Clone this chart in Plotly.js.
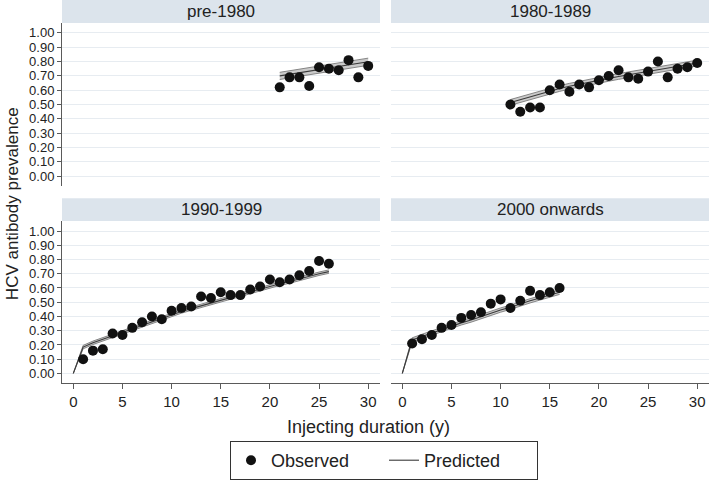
<!DOCTYPE html>
<html>
<head>
<meta charset="utf-8">
<script src="https://cdn.plot.ly/plotly-3.0.1.min.js"></script>
<style>html,body{margin:0;padding:0;background:#fff;}#chart{width:709px;height:480px;}</style>
</head>
<body>
<div id="chart"></div>
<script>
// ---- Data ----
const panelTitles = ["pre-1980", "1980-1989", "1990-1999", "2000 onwards"];

const pre1980X    = [21, 22, 23, 24, 25, 26, 27, 28, 29, 30];
const pre1980Obs  = [0.62, 0.69, 0.69, 0.63, 0.76, 0.75, 0.74, 0.81, 0.69, 0.77];
const pre1980Pred = [0.700, 0.711, 0.722, 0.733, 0.744, 0.755, 0.766, 0.777, 0.788, 0.799];
const pre1980Lo   = [0.675, 0.686, 0.697, 0.708, 0.719, 0.730, 0.741, 0.752, 0.763, 0.774];
const pre1980Hi   = [0.725, 0.736, 0.747, 0.758, 0.769, 0.780, 0.791, 0.802, 0.813, 0.824];

const e1980X    = [11, 12, 13, 14, 15, 16, 17, 18, 19, 20, 21, 22, 23, 24, 25, 26, 27, 28, 29, 30];
const e1980Obs  = [0.50, 0.45, 0.48, 0.48, 0.60, 0.64, 0.59, 0.64, 0.62, 0.67, 0.70, 0.74, 0.69, 0.68, 0.73, 0.80, 0.69, 0.75, 0.76, 0.79];
const e1980Pred = [0.515, 0.535, 0.555, 0.575, 0.594, 0.612, 0.628, 0.643, 0.657, 0.670, 0.683, 0.696, 0.708, 0.720, 0.732, 0.744, 0.756, 0.767, 0.779, 0.790];
const e1980Lo   = [0.495, 0.515, 0.535, 0.555, 0.574, 0.592, 0.608, 0.623, 0.637, 0.650, 0.663, 0.676, 0.688, 0.700, 0.712, 0.724, 0.736, 0.747, 0.759, 0.770];
const e1980Hi   = [0.535, 0.555, 0.575, 0.595, 0.614, 0.632, 0.648, 0.663, 0.677, 0.690, 0.703, 0.716, 0.728, 0.740, 0.752, 0.764, 0.776, 0.787, 0.799, 0.810];

const e1990X    = [1, 2, 3, 4, 5, 6, 7, 8, 9, 10, 11, 12, 13, 14, 15, 16, 17, 18, 19, 20, 21, 22, 23, 24, 25, 26];
const e1990Obs  = [0.10, 0.16, 0.17, 0.28, 0.27, 0.32, 0.36, 0.40, 0.38, 0.44, 0.46, 0.47, 0.54, 0.53, 0.57, 0.55, 0.55, 0.59, 0.61, 0.66, 0.64, 0.66, 0.69, 0.72, 0.79, 0.77];
const e1990PX   = [0, 1, 2, 3, 4, 5, 6, 7, 8, 9, 10, 11, 12, 13, 14, 15, 16, 17, 18, 19, 20, 21, 22, 23, 24, 25, 26];
const e1990Pred = [0, 0.185, 0.215, 0.240, 0.265, 0.290, 0.315, 0.340, 0.365, 0.390, 0.415, 0.435, 0.455, 0.475, 0.495, 0.515, 0.535, 0.555, 0.575, 0.590, 0.610, 0.630, 0.645, 0.665, 0.680, 0.700, 0.715];
const e1990Lo   = [0, 0.173, 0.203, 0.228, 0.253, 0.278, 0.303, 0.328, 0.353, 0.378, 0.403, 0.423, 0.443, 0.463, 0.483, 0.503, 0.523, 0.543, 0.563, 0.578, 0.598, 0.618, 0.633, 0.653, 0.668, 0.688, 0.703];
const e1990Hi   = [0, 0.197, 0.227, 0.252, 0.277, 0.302, 0.327, 0.352, 0.377, 0.402, 0.427, 0.447, 0.467, 0.487, 0.507, 0.527, 0.547, 0.567, 0.587, 0.602, 0.622, 0.642, 0.657, 0.677, 0.692, 0.712, 0.727];

const e2000X    = [1, 2, 3, 4, 5, 6, 7, 8, 9, 10, 11, 12, 13, 14, 15, 16];
const e2000Obs  = [0.21, 0.24, 0.27, 0.32, 0.34, 0.39, 0.41, 0.43, 0.49, 0.52, 0.46, 0.51, 0.58, 0.55, 0.57, 0.60];
const e2000PX   = [0, 1, 2, 3, 4, 5, 6, 7, 8, 9, 10, 11, 12, 13, 14, 15, 16];
const e2000Pred = [0, 0.235, 0.260, 0.285, 0.310, 0.330, 0.355, 0.375, 0.400, 0.420, 0.445, 0.465, 0.490, 0.510, 0.530, 0.550, 0.570];
const e2000Lo   = [0, 0.220, 0.245, 0.270, 0.295, 0.315, 0.340, 0.360, 0.385, 0.405, 0.430, 0.450, 0.475, 0.495, 0.515, 0.535, 0.555];
const e2000Hi   = [0, 0.250, 0.275, 0.300, 0.325, 0.345, 0.370, 0.390, 0.415, 0.435, 0.460, 0.480, 0.505, 0.525, 0.545, 0.565, 0.585];

const xTicks = [0, 5, 10, 15, 20, 25, 30];
const yTicks = [0, 0.1, 0.2, 0.3, 0.4, 0.5, 0.6, 0.7, 0.8, 0.9, 1.0];

// ---- Build traces ----
const panels = [
  {xa: "x",  ya: "y",  ox: pre1980X, oy: pre1980Obs, px: pre1980X, py: pre1980Pred, lo: pre1980Lo, hi: pre1980Hi},
  {xa: "x2", ya: "y2", ox: e1980X,   oy: e1980Obs,   px: e1980X,   py: e1980Pred,   lo: e1980Lo,   hi: e1980Hi},
  {xa: "x3", ya: "y3", ox: e1990X,   oy: e1990Obs,   px: e1990PX,  py: e1990Pred,   lo: e1990Lo,   hi: e1990Hi},
  {xa: "x4", ya: "y4", ox: e2000X,   oy: e2000Obs,   px: e2000PX,  py: e2000Pred,   lo: e2000Lo,   hi: e2000Hi}
];

const traces = [];
panels.forEach((p, i) => {
  traces.push({x: p.px, y: p.lo, xaxis: p.xa, yaxis: p.ya, type: "scatter", mode: "lines",
    line: {color: "#7a7a7a", width: 0.9}, showlegend: false, hoverinfo: "skip"});
  traces.push({x: p.px, y: p.hi, xaxis: p.xa, yaxis: p.ya, type: "scatter", mode: "lines",
    line: {color: "#7a7a7a", width: 0.9}, fill: "tonexty", fillcolor: "rgba(196,196,196,0.9)",
    showlegend: false, hoverinfo: "skip"});
  traces.push({x: p.px, y: p.py, xaxis: p.xa, yaxis: p.ya, type: "scatter", mode: "lines",
    line: {color: "#3a3a3a", width: 1.1}, name: "Predicted", legendgroup: "pred",
    showlegend: i === 0, legendrank: 2});
  traces.push({x: p.ox, y: p.oy, xaxis: p.xa, yaxis: p.ya, type: "scatter", mode: "markers",
    marker: {color: "#111111", size: 10}, name: "Observed", legendgroup: "obs",
    showlegend: i === 0, legendrank: 1});
});

// ---- Layout ----
const W = 709, H = 480;
const fx = px => px / W;
const fy = py => 1 - py / H;

const gridColor = "#e7ecf1";
const axisColor = "#5a5a5a";
const font = "Liberation Sans, Arial, sans-serif";

const leftDom = [fx(62), fx(380)];
const rightDom = [fx(391), 1];
const topDom = [fy(187), fy(23)];
const botDom = [fy(385), fy(222)];

const xr = [-1.15, 31.2];
const yr = [-0.07, 1.07];

function xAxis(dom, anchor, bottom) {
  return {
    domain: dom, anchor: anchor, range: xr, showgrid: false, zeroline: false,
    showline: bottom, linecolor: axisColor, linewidth: 1,
    ticks: bottom ? "outside" : "", ticklen: 5, tickcolor: axisColor,
    tickvals: xTicks, showticklabels: bottom,
    tickfont: {family: font, size: 15, color: "#222"}, fixedrange: true
  };
}
function yAxis(dom, anchor, left) {
  return {
    domain: dom, anchor: anchor, range: yr, showgrid: true, gridcolor: gridColor, gridwidth: 1,
    zeroline: false, showline: left, linecolor: axisColor, linewidth: 1,
    ticks: left ? "outside" : "", ticklen: 4, tickcolor: axisColor,
    tickvals: yTicks, tickformat: ".2f", showticklabels: left,
    tickfont: {family: font, size: 13, color: "#222"}, fixedrange: true
  };
}

const stripColor = "#dce4ec";
const shapes = [
  {type: "rect", xref: "paper", yref: "paper", x0: leftDom[0], x1: leftDom[1], y0: fy(23), y1: 1, fillcolor: stripColor, line: {width: 0}, layer: "below"},
  {type: "rect", xref: "paper", yref: "paper", x0: rightDom[0], x1: rightDom[1], y0: fy(23), y1: 1, fillcolor: stripColor, line: {width: 0}, layer: "below"},
  {type: "rect", xref: "paper", yref: "paper", x0: leftDom[0], x1: leftDom[1], y0: fy(222), y1: fy(199), fillcolor: stripColor, line: {width: 0}, layer: "below"},
  {type: "rect", xref: "paper", yref: "paper", x0: rightDom[0], x1: rightDom[1], y0: fy(222), y1: fy(199), fillcolor: stripColor, line: {width: 0}, layer: "below"}
];

const stripFont = {family: font, size: 17, color: "#222"};
const annotations = [
  {text: panelTitles[0], xref: "paper", yref: "paper", x: (leftDom[0] + leftDom[1]) / 2, y: fy(11.5), showarrow: false, font: stripFont, xanchor: "center", yanchor: "middle"},
  {text: panelTitles[1], xref: "paper", yref: "paper", x: (rightDom[0] + rightDom[1]) / 2, y: fy(11.5), showarrow: false, font: stripFont, xanchor: "center", yanchor: "middle"},
  {text: panelTitles[2], xref: "paper", yref: "paper", x: (leftDom[0] + leftDom[1]) / 2, y: fy(210.5), showarrow: false, font: stripFont, xanchor: "center", yanchor: "middle"},
  {text: panelTitles[3], xref: "paper", yref: "paper", x: (rightDom[0] + rightDom[1]) / 2, y: fy(210.5), showarrow: false, font: stripFont, xanchor: "center", yanchor: "middle"},
  {text: "HCV antibody prevalence", xref: "paper", yref: "paper", x: fx(12), y: fy(205), textangle: -90,
   showarrow: false, font: {family: font, size: 17, color: "#222"}, xanchor: "center", yanchor: "middle"},
  {text: "Injecting duration (y)", xref: "paper", yref: "paper", x: fx(368), y: fy(429),
   showarrow: false, font: {family: font, size: 18, color: "#222"}, xanchor: "center", yanchor: "middle"}
];

const layout = {
  width: W, height: H,
  margin: {l: 0, r: 0, t: 0, b: 0},
  paper_bgcolor: "#ffffff", plot_bgcolor: "#ffffff",
  font: {family: font, color: "#222"},
  xaxis:  xAxis(leftDom, "y", false),
  xaxis2: xAxis(rightDom, "y2", false),
  xaxis3: xAxis(leftDom, "y3", true),
  xaxis4: xAxis(rightDom, "y4", true),
  yaxis:  yAxis(topDom, "x", true),
  yaxis2: yAxis(topDom, "x2", false),
  yaxis3: yAxis(botDom, "x3", true),
  yaxis4: yAxis(botDom, "x4", false),
  shapes: shapes,
  annotations: annotations,
  showlegend: true,
  legend: {
    orientation: "h", x: fx(384), xanchor: "center", y: fy(443), yanchor: "top",
    bordercolor: "#333", borderwidth: 1, bgcolor: "#fff",
    font: {family: font, size: 18, color: "#222"},
    traceorder: "normal", entrywidth: 108, entrywidthmode: "pixels"
  }
};

Plotly.newPlot("chart", traces, layout, {displayModeBar: false, staticPlot: true});
</script>
</body>
</html>
